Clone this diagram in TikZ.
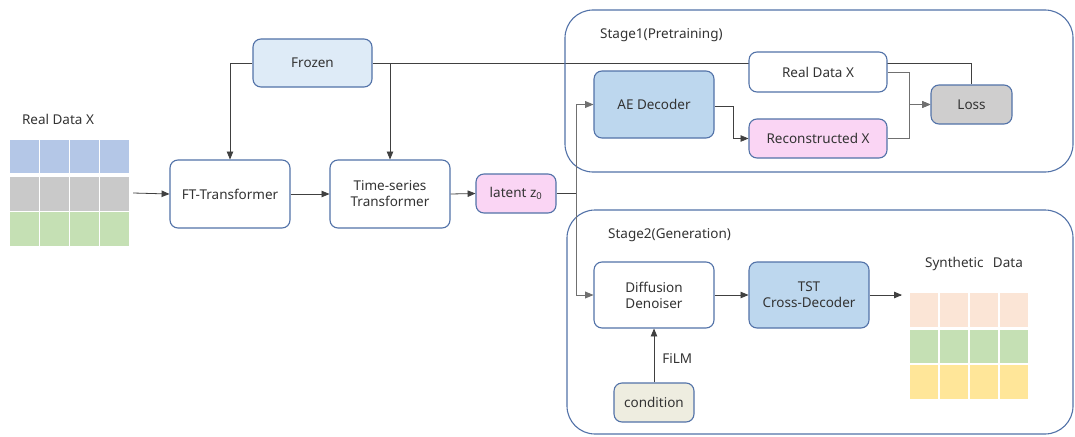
\documentclass[tikz,border=0pt]{standalone}
\usepackage{fontspec}
\setmainfont{Noto Sans}
\usepackage{tikz}
\usetikzlibrary{arrows, fit, backgrounds}
\definecolor{edgeblue}{HTML}{5272A8}
\definecolor{frozenfill}{HTML}{DEEBF7}
\definecolor{decfill}{HTML}{BDD7EE}
\definecolor{pinkfill}{HTML}{FAD5F4}
\definecolor{lossfill}{HTML}{CFCECE}
\definecolor{condfill}{HTML}{EEEDE0}
\definecolor{cellblue}{HTML}{B4C7E7}
\definecolor{cellgray}{HTML}{C9C9C9}
\definecolor{cellgreen}{HTML}{C5E0B4}
\definecolor{cellpeach}{HTML}{FBE5D6}
\definecolor{cellyellow}{HTML}{FFE699}
\definecolor{txt}{HTML}{333333}
\definecolor{wire}{HTML}{404040}
\definecolor{lightwire}{HTML}{707070}
\tikzstyle{block} = [rectangle, rounded corners=8pt, draw=edgeblue, line width=1.1pt, fill=white, text=txt, align=center, text centered, inner sep=0pt]
\tikzstyle{stage} = [draw=edgeblue, line width=1.1pt, rounded corners=28pt]
\tikzstyle{label} = [text=txt, inner sep=0pt]
\tikzstyle{arrow} = [draw=wire, line width=0.8pt, ->, >=triangle 45]
\tikzstyle{wireline} = [draw=wire, line width=0.8pt]
\tikzstyle{grayarrow} = [draw=lightwire, line width=0.9pt, ->, >=triangle 45]

\begin{document}
\begin{tikzpicture}[x=1pt, y=-1pt, font=\fontsize{13.5}{16}\selectfont]
\useasboundingbox (0,0) rectangle (1075,436);

% stages
\draw [stage] (565,10) rectangle (1073,172);
\draw [stage] (567,210) rectangle (1073,434);
\node (stage1) [label, anchor=west] at (600,35) {Stage1(Pretraining)};
\node (stage2) [label, anchor=west] at (608,235) {Stage2(Generation)};

% input data
\node (realtitle) [label] at (58,119) {Real Data X};
\foreach \i in {0,...,3} {
  \fill [cellblue]  (10+\i*30,140) rectangle (39+\i*30,173);
  \fill [cellgray]  (10+\i*30,177) rectangle (39+\i*30,211);
  \fill [cellgreen] (10+\i*30,212) rectangle (39+\i*30,246);
}
\node (realgrid) [inner sep=0pt, minimum width=120pt, minimum height=106pt] at (70,193) {};

% encoder path
\node (frozen) [block, fill=frozenfill, minimum width=119pt, minimum height=48pt] at (312.5,63) {Frozen};
\node (ft) [block, minimum width=120pt, minimum height=68pt] at (230,194) {FT-Transformer};
\node (ts) [block, minimum width=120pt, minimum height=68pt] at (390,194) {Time-series\\Transformer};
\node (latent) [block, fill=pinkfill, minimum width=80pt, minimum height=39pt] at (516,193.5) {latent z\textsubscript{0}};

% stage 1
\node (ae) [block, fill=decfill, minimum width=120pt, minimum height=67pt] at (654,104.5) {AE Decoder};
\node (realx) [block, minimum width=138pt, minimum height=40pt] at (818,72) {Real Data X};
\node (recon) [block, fill=pinkfill, minimum width=138pt, minimum height=39pt] at (818,138.5) {Reconstructed X};
\node (loss) [block, fill=lossfill, minimum width=81pt, minimum height=39pt] at (971.5,104.5) {Loss};

% stage 2
\node (denoiser) [block, minimum width=120pt, minimum height=66pt] at (654,295) {Diffusion\\Denoiser};
\node (tst) [block, fill=decfill, minimum width=120pt, minimum height=66pt] at (809,295) {TST\\Cross-Decoder};
\node (condition) [block, fill=condfill, minimum width=80pt, minimum height=39pt] at (654,402.5) {condition};

% output data
\node (syntitle) [label] at (974,264) {Synthetic\hspace{0.7em}Data};
\foreach \i in {0,...,3} {
  \fill [cellpeach]  (910+\i*30,293) rectangle (938+\i*30,327);
  \fill [cellgreen]  (910+\i*30,330) rectangle (938+\i*30,363);
  \fill [cellyellow] (910+\i*30,365) rectangle (938+\i*30,399);
}
\node (syngrid) [inner sep=0pt, minimum width=118pt, minimum height=106pt] at (969,346) {};
\coordinate (synin) at (902,295);

\begin{scope}[on background layer]
\draw [wireline] (frozen.east) -| (loss.north);
\end{scope}

\draw [arrow] ([xshift=3pt]realgrid.east) -- (ft.west);
\draw [arrow] (frozen.west) -| (ft.north);
\draw [arrow] (frozen.east -| ts.north) -- (ts.north);
\draw [arrow] (ft.east) -- (ts.west);
\draw [arrow] (ts.east) -- (latent.west);
\draw [wireline] (latent.east) -- ++(20,0);
\draw [grayarrow] ([xshift=20pt]latent.east) |- (ae.west);
\draw [grayarrow] ([xshift=20pt]latent.east) |- (denoiser.west);
\draw [arrow] ([yshift=-2pt]ae.east) -- ++(19,0) |- (recon.west);
\draw [grayarrow] (realx.east) -- ++(22,0) |- (loss.west);
\draw [grayarrow] (recon.east) -- ++(22,0) |- (loss.west);
\draw [arrow] (denoiser.east) -- (tst.west);
\draw [arrow] (tst.east) -- (synin);
\draw [arrow] (condition.north) -- node (film) [label, right=8pt, pos=0.45] {FiLM} (denoiser.south);

\end{tikzpicture}
\end{document}
